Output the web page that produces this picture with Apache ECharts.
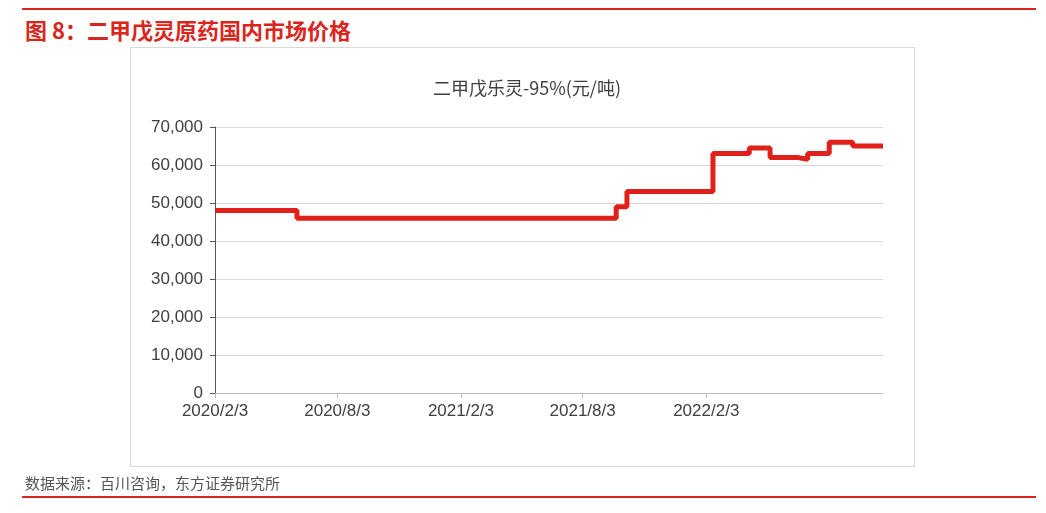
<html>
<head>
  <script src="https://cdn.jsdelivr.net/npm/echarts@6/dist/echarts.min.js"></script>
  <style>
    body { margin: 0; background: #fff; font-family: "Noto Sans CJK SC", sans-serif; }
    #top { position: absolute; left: 22px; right: 10px; top: 8px; border-top: 2px solid #d9261c; }
    #head { position: absolute; left: 25px; top: 13px; color: #d9261c; font-size: 22px; font-weight: bold; }
    #frame { position: absolute; left: 130px; top: 47px; width: 783px; height: 418px; border: 1px solid #d9d9d9; }
    #main { position: absolute; left: 0; top: 0; width: 1046px; height: 513px; }
    #src { position: absolute; left: 25px; top: 472px; color: #555; font-size: 15px; }
    #bot { position: absolute; left: 22px; right: 10px; top: 496px; border-top: 2px solid #d9261c; }
  </style>
</head>
<body>
  <div id="top"></div>
  <div id="head">图 8：二甲戊灵原药国内市场价格</div>
  <div id="frame"></div>
  <div id="main"></div>
  <div id="src">数据来源：百川咨询，东方证券研究所</div>
  <div id="bot"></div>
  <script>
    var dates = ['2020-02-03', '2020-06-04', '2021-09-22', '2021-10-08', '2022-02-13', '2022-04-08',
      '2022-05-09', '2022-06-18', '2022-07-04', '2022-08-05', '2022-09-09', '2022-10-24'];
    var prices = [48000, 46000, 49000, 53000, 63000, 64500, 62000, 61500, 63000, 66000, 65000, 65000];
    var tickDates = ['2020-02-03', '2020-08-03', '2021-02-03', '2021-08-03', '2022-02-03', '2022-08-03'];

    function ts(d) { return Date.UTC(+d.slice(0, 4), +d.slice(5, 7) - 1, +d.slice(8, 10)); }
    var myChart = echarts.init(document.getElementById('main'));
    var data = dates.map(function (d, i) { return [ts(d), prices[i]]; });
    var ticks = tickDates.map(ts);
    var option = {
      animation: false,
      title: {
        text: '二甲戊乐灵-95%(元/吨)', left: 522, top: 74, textAlign: 'center',
        textStyle: { fontSize: 18, fontWeight: 'normal', color: '#404040', fontFamily: 'Noto Sans CJK SC' }
      },
      grid: { left: 215, right: 163, top: 127, bottom: 120 },
      xAxis: {
        type: 'value',
        min: ts('2020-02-03'),
        max: ts('2022-10-24'),
        axisLine: { show: true, lineStyle: { color: '#bfbfbf' } },
        axisTick: { show: true, customValues: ticks, length: 5, lineStyle: { color: '#bfbfbf' } },
        axisLabel: {
          customValues: ticks, fontSize: 17, color: '#404040', margin: 10, showMaxLabel: false,
          formatter: function (v) { var d = new Date(v); return d.getUTCFullYear() + '/' + (d.getUTCMonth() + 1) + '/' + d.getUTCDate(); }
        },
        splitLine: { show: false }
      },
      yAxis: {
        type: 'value', min: 0, max: 70000, interval: 10000,
        axisLabel: { fontSize: 17, color: '#404040', margin: 12 },
        splitLine: { lineStyle: { color: '#d9d9d9' } }
      },
      series: [{
        type: 'line', step: 'end', data: data, symbol: 'none',
        lineStyle: { color: '#e0201b', width: 5 }
      }]
    };
    myChart.setOption(option);
  </script>
</body>
</html>
